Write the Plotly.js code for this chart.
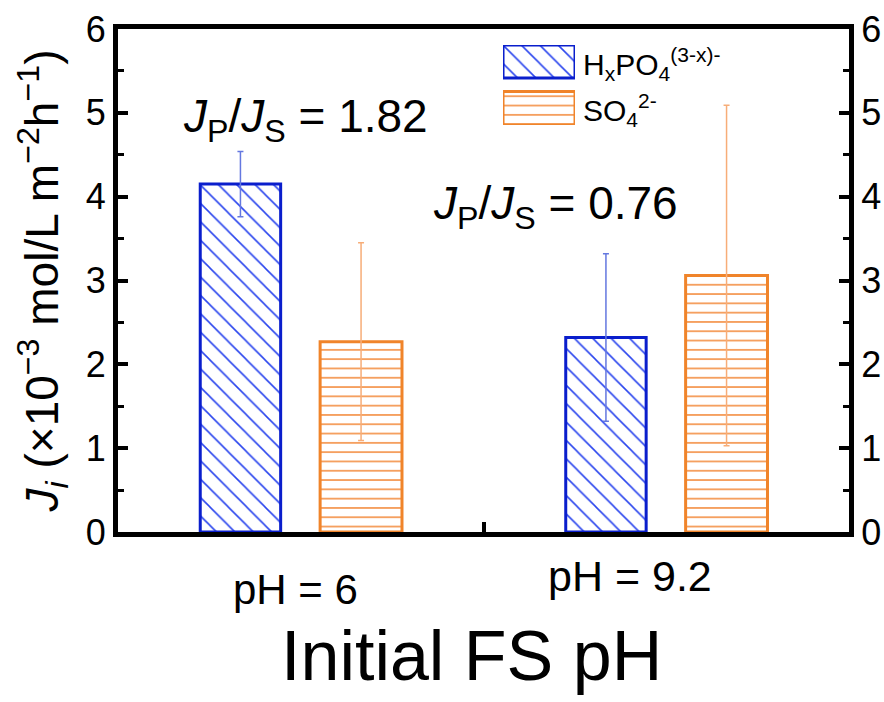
<!DOCTYPE html>
<html>
<head>
<meta charset="utf-8">
<script src="https://cdn.plot.ly/plotly-3.0.1.min.js"></script>
<style>html,body{margin:0;padding:0;background:#fff;}#chart{width:884px;height:702px;}</style>
</head>
<body>
<div id="chart"></div>
<script>
// Data
const categories = ['pH = 6', 'pH = 9.2'];
const categoryPos = [0.5, 1.5];
const labelPos = [0.485, 1.40];
const fluxP = [4.15, 2.32];
const errP = [0.39, 1.0];
const fluxS = [2.27, 3.06];
const errS = [1.18, 2.03];
const ratioLabels = ['1.82', '0.76'];
const yTicks = [0, 1, 2, 3, 4, 5, 6];
const xTitle = 'Initial FS pH';

const blue = '#0a1ecc';
const orange = '#f0842a';
const font = 'Liberation Sans, Arial, sans-serif';

const traces = [
  {
    type: 'bar', x: categoryPos, y: fluxP, offset: -0.275, width: 0.22,
    marker: {color: 'rgba(0,0,0,0)', line: {color: blue, width: 3},
      pattern: {shape: '\\', fgcolor: '#2a45ee', bgcolor: 'white', size: 13, solidity: 0.12}},
    error_y: {type: 'data', array: errP, visible: true, color: '#6478e0', thickness: 1.5, width: 3},
    showlegend: false, hoverinfo: 'none'
  },
  {
    type: 'bar', x: categoryPos, y: fluxS, offset: 0.053, width: 0.224,
    marker: {color: 'rgba(0,0,0,0)', line: {color: orange, width: 3},
      pattern: {shape: '-', fgcolor: '#f5a060', bgcolor: 'white', size: 9.3, solidity: 0.2}},
    error_y: {type: 'data', array: errS, visible: true, color: '#f7ad78', thickness: 1.5, width: 3},
    showlegend: false, hoverinfo: 'none'
  },
  // invisible trace to activate right axis
  {type: 'scatter', x: [categoryPos[0]], y: [0], yaxis: 'y2', mode: 'markers',
   marker: {opacity: 0}, showlegend: false, hoverinfo: 'none'},
  // legend swatches
  {type: 'bar', x: [0], y: [0.41], base: [0.59], width: [1], xaxis: 'x3', yaxis: 'y3',
   marker: {color: 'rgba(0,0,0,0)', line: {color: blue, width: 3},
     pattern: {shape: '\\', fgcolor: '#2a45ee', bgcolor: 'white', size: 13, solidity: 0.12}},
   showlegend: false, hoverinfo: 'none'},
  {type: 'bar', x: [0], y: [0.42], base: [0], width: [1], xaxis: 'x3', yaxis: 'y3',
   marker: {color: 'rgba(0,0,0,0)', line: {color: orange, width: 3},
     pattern: {shape: '-', fgcolor: '#f5a060', bgcolor: 'white', size: 9.3, solidity: 0.2}},
   showlegend: false, hoverinfo: 'none'}
];

const yaxisCommon = {
  range: [0, 6], tickvals: yTicks, ticks: 'inside', ticklen: 10, tickwidth: 4,
  tickcolor: 'black', showline: true, linecolor: 'black', linewidth: 5,
  showgrid: false, zeroline: false, tickfont: {family: font, size: 36, color: 'black'},
  minor: {dtick: 0.5, ticks: 'inside', ticklen: 6, tickwidth: 3, tickcolor: 'black'}
};

const layout = {
  width: 884, height: 702,
  margin: {l: 118, r: 35, t: 29, b: 170},
  paper_bgcolor: 'white', plot_bgcolor: 'white',
  showlegend: false,
  barmode: 'overlay',
  xaxis: {
    range: [0, 2], tickvals: [1], ticktext: [''], ticks: 'inside', ticklen: 10, tickwidth: 4,
    tickcolor: 'black', showline: true, linecolor: 'black', linewidth: 5, mirror: true,
    showgrid: false, zeroline: false
  },
  yaxis: Object.assign({}, yaxisCommon, {
    title: {text: '<i>J</i><sub><i>i</i></sub> (×10<sup>−3</sup> mol/L m<sup>−2</sup>h<sup>−1</sup>)',
            font: {family: font, size: 46, color: 'black'}, standoff: 14}
  }),
  yaxis2: Object.assign({}, yaxisCommon, {overlaying: 'y', side: 'right'}),
  xaxis3: {domain: [0.5267, 0.6252], range: [-0.5, 0.5], visible: false, fixedrange: true},
  yaxis3: {domain: [0.809, 0.968], range: [0, 1], visible: false, fixedrange: true},
  annotations: [
    {xref: 'paper', yref: 'paper', x: (471 - 118) / 731, y: (532 - 656) / 503, yanchor: 'middle', xanchor: 'center',
     text: xTitle, showarrow: false, font: {family: font, size: 70, color: 'black'}},
    {xref: 'x', yref: 'paper', x: labelPos[0], y: (532 - 589) / 503, yanchor: 'middle', xanchor: 'center',
     text: categories[0], showarrow: false, font: {family: font, size: 42, color: 'black'}},
    {xref: 'x', yref: 'paper', x: labelPos[1], y: (532 - 576) / 503, yanchor: 'middle', xanchor: 'center',
     text: categories[1], showarrow: false, font: {family: font, size: 43, color: 'black'}},
    {xref: 'paper', yref: 'paper', x: (181 - 118) / 731, y: (532 - 120) / 503, xanchor: 'left', yanchor: 'middle',
     text: '<i>J</i><sub>P</sub>/<i>J</i><sub>S</sub> = ' + ratioLabels[0], showarrow: false,
     font: {family: font, size: 46, color: 'black'}},
    {xref: 'paper', yref: 'paper', x: (431 - 118) / 731, y: (532 - 207) / 503, xanchor: 'left', yanchor: 'middle',
     text: '<i>J</i><sub>P</sub>/<i>J</i><sub>S</sub> = ' + ratioLabels[1], showarrow: false,
     font: {family: font, size: 46, color: 'black'}},
    {xref: 'paper', yref: 'paper', x: (581 - 118) / 731, y: (532 - 64) / 503, xanchor: 'left', yanchor: 'middle',
     text: 'H<sub>x</sub>PO<sub>4</sub><sup>(3-x)-</sup>', showarrow: false,
     font: {family: font, size: 30, color: 'black'}},
    {xref: 'paper', yref: 'paper', x: (581 - 118) / 731, y: (532 - 110) / 503, xanchor: 'left', yanchor: 'middle',
     text: 'SO<sub>4</sub><sup>2-</sup>', showarrow: false,
     font: {family: font, size: 30, color: 'black'}}
  ]
};

Plotly.newPlot('chart', traces, layout, {staticPlot: true, displayModeBar: false});
</script>
</body>
</html>
